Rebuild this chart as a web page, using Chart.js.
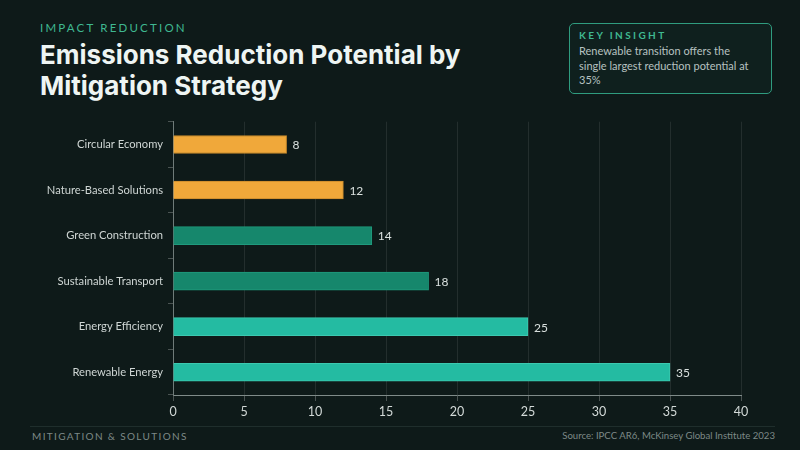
<!DOCTYPE html>
<html>
<head>
<meta charset="utf-8">
<script src="https://cdn.jsdelivr.net/npm/chart.js@4.4.1/dist/chart.umd.min.js"></script>
<style>
  html, body { margin: 0; padding: 0; }
  body { width: 800px; height: 450px; background: #0e1a19; position: relative; overflow: hidden; font-family: Lato, sans-serif; }
  .eyebrow { position: absolute; left: 40px; top: 21px; font-size: 11.5px; letter-spacing: 2.2px; color: #3fb891; font-weight: 400; }
  h1 { position: absolute; left: 40px; top: 39px; margin: 0; font-family: Inter, sans-serif; font-weight: 700; font-size: 26px; line-height: 31px; color: #eef5f3; width: 470px; letter-spacing: 0px; }
  .insight { position: absolute; left: 569px; top: 23px; width: 203px; height: 71px; box-sizing: border-box; border: 1px solid #2f9c7f; border-radius: 5px; background: #0f201e; padding: 5px 9px; }
  .insight .k { font-size: 10px; letter-spacing: 2.4px; color: #3fb891; font-weight: 700; }
  .insight .t { font-size: 11px; line-height: 14.5px; color: #b7c2c0; margin-top: 3px; width: 177px; }
  #wrap { position: absolute; left: 30px; top: 110px; width: 730px; height: 310px; }
  .rule { position: absolute; left: 30px; top: 426px; width: 745px; height: 1px; background: #1f2e2c; }
  .foot-l { position: absolute; left: 32px; top: 430px; font-size: 10px; letter-spacing: 1.35px; color: #7d8987; }
  .foot-r { position: absolute; right: 25px; top: 430px; font-size: 9.6px; color: #7d8987; }
</style>
</head>
<body>
<div class="eyebrow">IMPACT REDUCTION</div>
<h1>Emissions Reduction Potential by Mitigation Strategy</h1>
<div class="insight">
  <div class="k">KEY INSIGHT</div>
  <div class="t">Renewable transition offers the single largest reduction potential at 35%</div>
</div>
<div id="wrap"><canvas id="chart"></canvas></div>
<div class="rule"></div>
<div class="foot-l">MITIGATION &amp; SOLUTIONS</div>
<div class="foot-r">Source: IPCC AR6, McKinsey Global Institute 2023</div>
<script>
const strategies = ['Circular Economy', 'Nature-Based Solutions', 'Green Construction', 'Sustainable Transport', 'Energy Efficiency', 'Renewable Energy'];
const reductionPct = [8, 12, 14, 18, 25, 35];
const xTicks = [0, 5, 10, 15, 20, 25, 30, 35, 40];

const barColors = ['#f0a83a', '#f0a83a', '#16876c', '#16876c', '#24bba2', '#24bba2'];
const barBorders = ['#c98a2c', '#c98a2c', '#1f9a7d', '#1f9a7d', '#3cc9b0', '#3cc9b0'];

const valueLabels = {
    id: 'valueLabels',
    afterDatasetsDraw(chart) {
        const { ctx } = chart;
        ctx.save();
        ctx.fillStyle = '#d9e0de';
        ctx.font = '12px Lato, sans-serif';
        ctx.textAlign = 'left';
        ctx.textBaseline = 'middle';
        chart.getDatasetMeta(0).data.forEach((bar, i) => {
            ctx.fillText(reductionPct[i], bar.x + 6, bar.y + 1);
        });
        ctx.restore();
    }
};

new Chart(document.getElementById('chart').getContext('2d'), {
    type: 'bar',
    data: {
        labels: strategies,
        datasets: [{
            data: reductionPct,
            backgroundColor: barColors,
            borderColor: barBorders,
            borderWidth: 1,
            barThickness: 18
        }]
    },
    options: {
        indexAxis: 'y',
        responsive: true,
        maintainAspectRatio: false,
        animation: false,
        layout: { padding: { top: 6, right: 19, left: 0, bottom: 0 } },
        plugins: { legend: { display: false }, tooltip: { enabled: false } },
        scales: {
            x: {
                min: 0,
                max: 40,
                afterBuildTicks(scale) { scale.ticks = xTicks.map(v => ({ value: v })); },
                afterFit(scale) { scale.height = 25; },
                grid: { color: 'rgba(255,255,255,0.09)', tickColor: 'rgba(255,255,255,0.25)', tickLength: 6 },
                border: { color: '#7f8b89', width: 1 },
                ticks: { color: '#d3dad8', font: { family: 'Lato', size: 12.5 }, padding: 3 }
            },
            y: {
                afterFit(scale) { scale.width = 143; },
                grid: { drawOnChartArea: false, color: 'rgba(255,255,255,0.25)', tickLength: 5, offset: true },
                border: { color: '#6f7b79', width: 1 },
                ticks: { color: '#cfd6d4', font: { family: 'Lato', size: 11.2 }, padding: 5 }
            }
        }
    },
    plugins: [valueLabels]
});
</script>
</body>
</html>
